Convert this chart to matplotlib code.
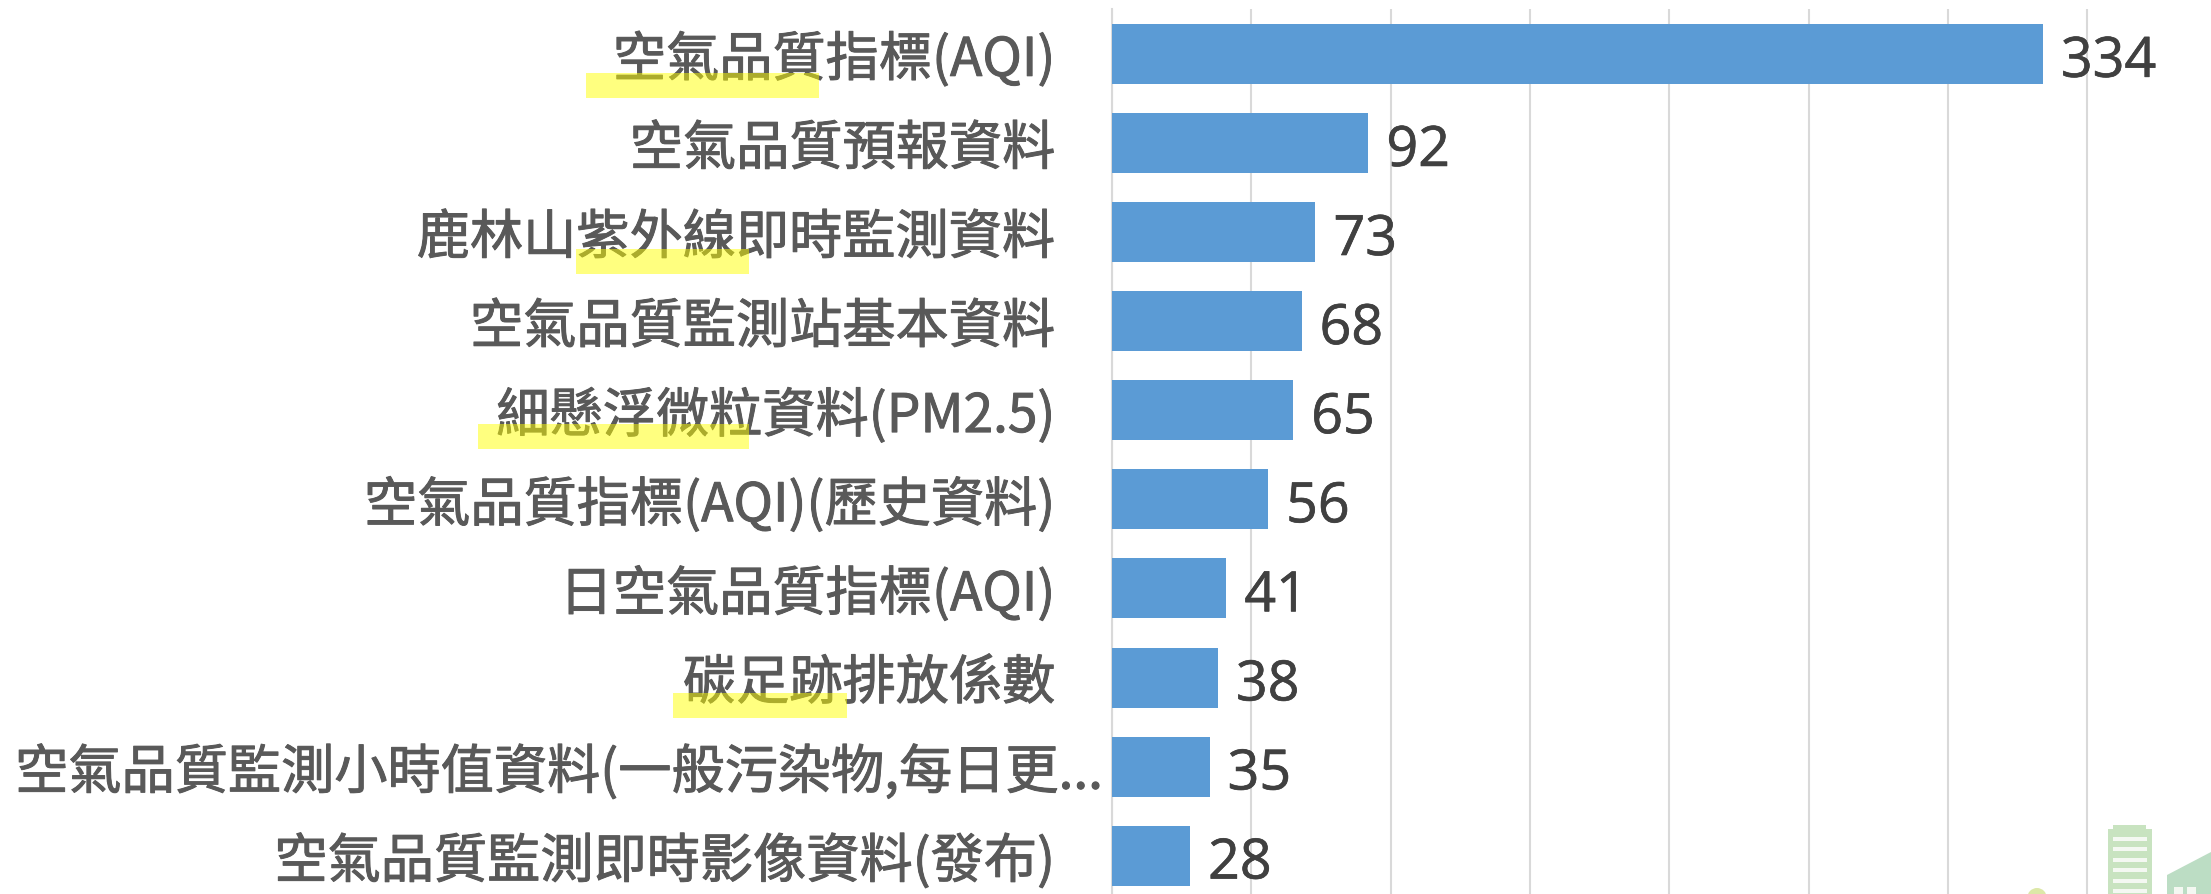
import matplotlib
matplotlib.use("Agg")
import matplotlib.patheffects as pe
import matplotlib.pyplot as plt
from matplotlib.patches import Circle, Polygon, Rectangle
from matplotlib.transforms import IdentityTransform, ScaledTranslation

WIDTH, HEIGHT = 2211, 895

names = [
    "空氣品質指標(AQI)",
    "空氣品質預報資料",
    "鹿林山紫外線即時監測資料",
    "空氣品質監測站基本資料",
    "細懸浮微粒資料(PM2.5)",
    "空氣品質指標(AQI)(歷史資料)",
    "日空氣品質指標(AQI)",
    "碳足跡排放係數",
    "空氣品質監測小時值資料(一般污染物,每日更...",
    "空氣品質監測即時影像資料(發布)",
]
values = [334, 92, 73, 68, 65, 56, 41, 38, 35, 28]
x_ticks = [0, 50, 100, 150, 200, 250, 300, 350]

plt.rcParams["font.family"] = ["Noto Sans CJK TC", "DejaVu Sans"]

fig = plt.figure(figsize=(WIDTH / 100, HEIGHT / 100), dpi=100)
ax = fig.add_axes([1112 / WIDTH, 0, 1 - 1112 / WIDTH, 1 - 10 / HEIGHT])

positions = list(range(len(names)))
bars = ax.barh(positions, values, height=0.673, color="#5B9BD5", zorder=3)
ax.set_xlim(0, 1099 / 2.787)
ax.set_ylim(9.43, -0.505)

ax.set_xticks(x_ticks)
ax.set_yticks(positions)
ax.set_yticklabels(names, fontsize=38.3, color="#595959", fontweight="medium")
ax.tick_params(axis="x", bottom=False, labelbottom=False)
ax.tick_params(axis="y", left=False, pad=37)
ax.grid(axis="x", color="#D9D9D9", linewidth=1.5, zorder=0)
for side in ["top", "right", "bottom"]:
    ax.spines[side].set_visible(False)
ax.spines["left"].set_color("#D9D9D9")
ax.spines["left"].set_linewidth(1.5)

# slightly heavier strokes, the reference text is bolder than the installed weight
for label in ax.get_yticklabels():
    label.set_path_effects([pe.withStroke(linewidth=0.7, foreground="#595959")])

# the long truncated label runs right up to the axis
long_label = ax.get_yticklabels()[8]
long_label.set_transform(long_label.get_transform() + ScaledTranslation(0.48, 0, fig.dpi_scale_trans))

for bar, value in zip(bars, values):
    ax.annotate(
        str(value),
        (value, bar.get_y() + bar.get_height() / 2),
        xytext=(13, -6),
        textcoords="offset points",
        va="center",
        fontsize=40,
        color="#404040",
        family="Open Sans",
        path_effects=[pe.withStroke(linewidth=0.5, foreground="#404040")],
    )


def px_rect(x0, y0, x1, y1, **kw):
    fig.add_artist(
        Rectangle(
            (x0 / WIDTH, 1 - y1 / HEIGHT),
            (x1 - x0) / WIDTH,
            (y1 - y0) / HEIGHT,
            transform=fig.transFigure,
            linewidth=0,
            **kw,
        )
    )


# marker pen strokes over the labels
for box in [(586, 74, 819, 99), (576, 250, 749, 275), (478, 425, 749, 450), (673, 694, 847, 719)]:
    px_rect(*box, color="#FFFF00", alpha=0.5, zorder=10)

# faded building picture in the corner
green = "#C8E3C0"
px_rect(2113, 826, 2146, 830, color=green)
px_rect(2108, 830, 2152, 895, color=green)
for y in [838, 848, 859, 869, 880, 890]:
    px_rect(2113, y, 2147, y + 4, color="#F4F8F2")
fig.add_artist(
    Polygon(
        [(2167 / WIDTH, 0), (2167 / WIDTH, 1 - 876 / HEIGHT), (1, 1 - 853 / HEIGHT), (1, 0)],
        transform=fig.transFigure,
        color="#BCDDC4",
        linewidth=0,
    )
)
px_rect(2174, 888, 2183, 895, color="#F4F8F2")
px_rect(2187, 888, 2196, 895, color="#F4F8F2")
fig.add_artist(Circle((2037, -3.75), 9.75, transform=IdentityTransform(), color="#DDE8A8", linewidth=0))

fig.savefig("out.png", dpi=100)
